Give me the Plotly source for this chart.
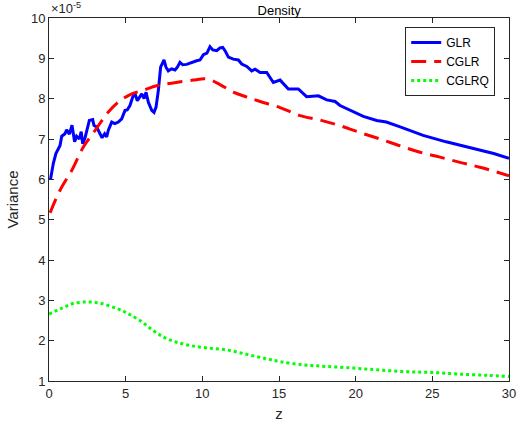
import plotly.graph_objects as go

# GLR (solid blue), values in units of 1e-5
glr_z = [0.1, 0.28, 0.45, 0.72, 0.83, 1.04, 1.15, 1.33, 1.5, 1.67, 1.8, 1.98, 2.1, 2.2, 2.35,
         2.5, 2.63, 2.85, 2.93, 3.1, 3.28, 3.46, 3.63, 3.76, 3.87, 4.02, 4.09, 4.3, 4.52, 4.74,
         4.96, 5.1, 5.28, 5.46, 5.61, 5.76, 5.89, 6.05, 6.2, 6.33, 6.48, 6.7, 6.85, 6.98, 7.13,
         7.28, 7.5, 7.63, 7.78, 8.0, 8.22, 8.37, 8.54, 8.72, 8.98, 9.3, 9.63, 9.85, 10.07, 10.3,
         10.5, 10.68, 10.94, 11.15, 11.33, 11.48, 11.7, 12.02, 12.35, 12.57, 12.9, 13.22, 13.44,
         13.77, 14.2, 14.63, 15.07, 15.61, 16.26, 16.8, 17.57, 18.11, 18.66, 18.98, 19.63, 20.5,
         21.37, 22.0, 22.9, 24.4, 25.9, 27.7, 29.0, 30.0]
glr_v = [6.0, 6.39, 6.64, 6.84, 7.07, 7.13, 7.23, 7.12, 7.34, 6.93, 7.07, 7.0, 7.18, 6.88, 7.03,
         7.3, 7.46, 7.48, 7.34, 7.3, 7.17, 7.03, 7.13, 7.05, 7.22, 7.34, 7.42, 7.38, 7.42, 7.5,
         7.71, 7.72, 7.83, 8.04, 8.12, 7.95, 8.04, 8.12, 8.0, 8.16, 7.91, 7.71, 7.66, 7.79, 8.2,
         8.78, 8.96, 8.78, 8.69, 8.74, 8.71, 8.78, 8.9, 8.84, 8.85, 8.9, 8.94, 8.96, 9.09, 9.13,
         9.29, 9.21, 9.19, 9.26, 9.27, 9.19, 9.03, 8.98, 8.96, 8.86, 8.8, 8.69, 8.73, 8.65,
         8.65, 8.4, 8.46, 8.24, 8.24, 8.05, 8.07, 7.97, 7.93, 7.83, 7.71, 7.56,
         7.46, 7.42, 7.3, 7.09, 6.93, 6.76, 6.64, 6.52]

# CGLR (dashed red)
cglr_z = [0.07, 0.72, 1.48, 2.24, 3.0, 3.87, 4.63, 5.4, 6.15, 7.02, 8.1, 9.41, 10.28, 11.15,
          12.02, 12.9, 13.77, 15.07, 16.37, 17.68, 18.98, 20.28, 21.59, 22.9, 24.2, 25.5,
          26.8, 28.1, 30.0]
cglr_v = [5.17, 5.73, 6.22, 6.8, 7.21, 7.67, 7.95, 8.12, 8.21, 8.32, 8.39, 8.46, 8.49, 8.35,
          8.16, 8.04, 7.93, 7.78, 7.58, 7.47, 7.33, 7.16, 7.0, 6.83, 6.67, 6.55,
          6.42, 6.3, 6.09]

# CGLRQ (dotted green)
cglrq_z = [0.0, 0.81, 1.57, 2.55, 3.42, 4.4, 5.06, 5.93, 6.8, 7.56, 8.33, 9.2, 10.29, 11.6,
           12.9, 14.2, 15.07, 16.6, 18.1, 19.87, 21.6, 23.35, 25.1, 26.8, 28.6, 30.0]
cglrq_v = [2.66, 2.8, 2.92, 2.96, 2.92, 2.8, 2.69, 2.5, 2.25, 2.07, 1.96, 1.88, 1.82, 1.77,
           1.66, 1.55, 1.48, 1.4, 1.36, 1.32, 1.27, 1.23, 1.21, 1.17, 1.14, 1.11]

x_ticks = [0, 5, 10, 15, 20, 25, 30]
y_ticks = [1, 2, 3, 4, 5, 6, 7, 8, 9, 10]

FONT = "Liberation Sans, Arial, Helvetica, sans-serif"
AX = "#262626"

fig = go.Figure()
fig.add_trace(go.Scatter(x=glr_z, y=glr_v, mode="lines", name="GLR",
                         line=dict(color="#0000ff", width=3)))
fig.add_trace(go.Scatter(x=cglr_z, y=cglr_v, mode="lines", name="CGLR",
                         line=dict(color="#ff0000", width=3, dash="15px,8px", shape="spline")))
fig.add_trace(go.Scatter(x=cglrq_z, y=cglrq_v, mode="lines", name="CGLRQ",
                         line=dict(color="#00ff00", width=3, dash="3px,3px", shape="spline")))

axis_common = dict(showline=True, linecolor=AX, linewidth=1, mirror="ticks",
                   ticks="inside", ticklen=5, tickcolor=AX, showgrid=False, zeroline=False,
                   automargin=False,
                   tickfont=dict(family=FONT, size=13, color=AX))
fig.update_xaxes(range=[0, 30], tickvals=x_ticks,
                 title=dict(text="z", font=dict(family=FONT, size=15, color=AX), standoff=8),
                 **axis_common)
fig.update_yaxes(range=[1, 10], tickvals=y_ticks,
                 title=dict(text="Variance", font=dict(family=FONT, size=15, color=AX), standoff=8),
                 **axis_common)

fig.update_layout(
    width=518, height=430,
    margin=dict(l=49, r=9, t=18, b=49),
    plot_bgcolor="white", paper_bgcolor="white",
    font=dict(family=FONT, color=AX),
    title=dict(text="Density", x=0.539, xanchor="center", xref="container",
               y=1 - 10 / 430, yanchor="middle", yref="container",
               font=dict(family=FONT, size=13, color="#000000"), automargin=False),
    legend=dict(x=0.97, y=0.975, xanchor="right", yanchor="top",
                bgcolor="white", bordercolor=AX, borderwidth=1,
                font=dict(family=FONT, size=12, color="#000000"),
                tracegroupgap=0, itemwidth=30),
    showlegend=True,
    annotations=[dict(text="\u00d710<sup>-5</sup>", xref="paper", yref="paper", x=0.0, y=1.0,
                      xanchor="left", yanchor="bottom", showarrow=False,
                      font=dict(family=FONT, size=13, color=AX))],
)

fig.write_html("out.html")
